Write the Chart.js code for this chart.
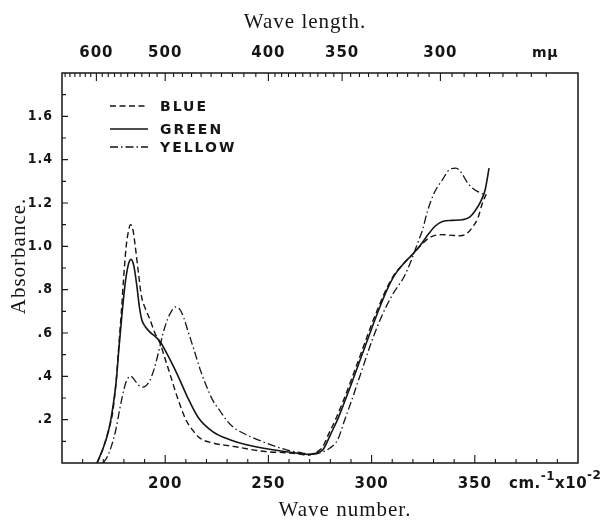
<!DOCTYPE html>
<html><head><meta charset="utf-8">
<script src="https://cdn.jsdelivr.net/npm/chart.js@4.4.1/dist/chart.umd.min.js"></script>
<style>html,body{margin:0;padding:0;background:#fff;}#wrap{width:610px;height:525px;}</style>
</head><body><div id="wrap"><canvas id="c" width="610" height="525"></canvas></div>
<script>
// ---- data (wave number in cm^-1 x 10^-2, absorbance) ----
const seriesNames = ['BLUE', 'GREEN', 'YELLOW'];
const blueX = [167, 170, 172.5, 174.5, 176.3, 177.5, 178.7, 179.8, 181.1, 182.2, 183.2, 184.3, 185.5, 187, 188.5, 190.5, 192.5, 195, 197.6, 200, 203, 206, 210, 213, 216.8, 223.2, 232.9, 247.4, 260.3, 266, 269, 272, 276, 279.5, 282.5, 286, 290, 295, 300, 304, 307.5, 311, 315, 320, 324, 328, 334, 340, 343, 346, 349, 351.5, 353.7, 355.5];
const blueY = [0, 0.07, 0.15, 0.23, 0.385, 0.54, 0.69, 0.846, 1.0, 1.07, 1.10, 1.08, 1.0, 0.88, 0.77, 0.71, 0.665, 0.6, 0.55, 0.48, 0.39, 0.30, 0.20, 0.155, 0.115, 0.092, 0.077, 0.054, 0.046, 0.04, 0.035, 0.045, 0.07, 0.14, 0.2, 0.28, 0.38, 0.51, 0.64, 0.735, 0.81, 0.87, 0.915, 0.965, 1.005, 1.04, 1.054, 1.05, 1.049, 1.058, 1.09, 1.13, 1.2, 1.24];
const greenX = [167, 170, 172.6, 174.2, 176.3, 177.5, 179, 180.5, 182, 183.4, 184.8, 186.3, 187.5, 188.7, 190.3, 192.5, 195, 197.6, 200, 204, 207, 210.5, 216, 223, 232, 239.4, 252.2, 263.5, 270, 273, 276.4, 280.4, 283.5, 286, 290, 295, 300, 304, 307.5, 311, 315, 320, 324, 327.9, 331, 334.3, 339, 344, 347.5, 350.5, 353, 355, 356.9];
const greenY = [0, 0.07, 0.15, 0.23, 0.38, 0.52, 0.68, 0.82, 0.91, 0.94, 0.91, 0.815, 0.72, 0.66, 0.63, 0.605, 0.585, 0.56, 0.52, 0.446, 0.385, 0.31, 0.21, 0.145, 0.105, 0.084, 0.061, 0.046, 0.04, 0.045, 0.061, 0.138, 0.2, 0.26, 0.36, 0.49, 0.62, 0.72, 0.80, 0.865, 0.915, 0.965, 1.01, 1.061, 1.095, 1.115, 1.12, 1.123, 1.135, 1.169, 1.21, 1.26, 1.361];
const yellowX = [170, 172, 174, 176, 178, 180, 181.5, 183.4, 185, 187, 189, 190.5, 192.5, 194.5, 197, 199, 201, 203, 205, 207, 209, 211, 213.7, 217, 220, 223, 226.6, 229.5, 233, 239.4, 249, 258.7, 266.6, 271, 276, 280, 283.6, 287, 290, 295, 300, 305, 310, 315.8, 319, 322.3, 324.7, 327, 330.3, 334.3, 337.6, 340.8, 343.5, 346, 348.8, 352, 355.5];
const yellowY = [0, 0.03, 0.08, 0.15, 0.25, 0.34, 0.385, 0.40, 0.385, 0.36, 0.35, 0.355, 0.38, 0.43, 0.52, 0.60, 0.66, 0.70, 0.72, 0.71, 0.67, 0.61, 0.53, 0.43, 0.354, 0.29, 0.24, 0.2, 0.165, 0.13, 0.092, 0.061, 0.046, 0.04, 0.05, 0.07, 0.108, 0.2, 0.28, 0.42, 0.56, 0.68, 0.775, 0.861, 0.93, 1.015, 1.077, 1.16, 1.246, 1.307, 1.353, 1.361, 1.34, 1.30, 1.269, 1.25, 1.235];
// ---- tick labels ----
const waveNumberTicks = [200, 250, 300, 350];
const waveLengthTicks = [600, 500, 400, 350, 300];
const absorbanceTicks = [0.2, 0.4, 0.6, 0.8, 1.0, 1.2, 1.4, 1.6];
const absorbanceLabels = ['.2', '.4', '.6', '.8', '1.0', '1.2', '1.4', '1.6'];

const INK = '#151515';
const tickFont = { family: 'DejaVu Sans', size: 15, weight: 'bold' };
const yTickFont = { family: '"DejaVu Sans Condensed", "DejaVu Sans"', size: 14, weight: 'bold' };
const pts = (xs, ys) => xs.map((x, i) => ({ x: x, y: ys[i] }));
const styles = [
  { dash: [6, 3.5], width: 1.4 },
  { dash: [], width: 1.6 },
  { dash: [8, 3, 1.5, 3], width: 1.3 }
];
const seriesData = [pts(blueX, blueY), pts(greenX, greenY), pts(yellowX, yellowY)];

const decor = {
  id: 'decor',
  beforeDraw(chart) { chart.ctx.letterSpacing = '1px'; },
  beforeDatasetsDraw(chart) {
    const ctx = chart.ctx;
    ctx.letterSpacing = '0px';
    const { left, right, top, bottom } = chart.chartArea;
    const sx = chart.scales.x, sy = chart.scales.y;
    ctx.save();
    ctx.strokeStyle = INK;
    ctx.lineWidth = 1.1;
    ctx.beginPath();
    for (let v = 160; v < 400; v += 10) {
      const p = sx.getPixelForValue(v);
      const len = v % 50 === 0 ? 8 : 4;
      ctx.moveTo(p, bottom); ctx.lineTo(p, bottom - len);
    }
    for (let l = 660; l >= 260; l -= (l > 400 ? 10 : 5)) {
      const v = 1e5 / l;
      if (v <= 150 || v >= 400) continue;
      const p = sx.getPixelForValue(v);
      const len = waveLengthTicks.includes(l) ? 8 : 4;
      ctx.moveTo(p, top); ctx.lineTo(p, top + len);
    }
    for (let k = 1; k < 18; k++) {
      const p = sy.getPixelForValue(k / 10);
      const len = k % 2 === 0 ? 6 : 4;
      ctx.moveTo(left, p); ctx.lineTo(left + len, p);
    }
    ctx.stroke();
    ctx.lineWidth = 1.5;
    ctx.strokeRect(left, top, right - left, bottom - top);
    ctx.restore();
  },
  afterDraw(chart) {
    const ctx = chart.ctx;
    ctx.save();
    ctx.fillStyle = INK;
    ctx.strokeStyle = INK;
    // legend
    const ly = [106, 129, 147];
    seriesNames.forEach((name, i) => {
      ctx.lineWidth = styles[i].width;
      ctx.setLineDash(styles[i].dash);
      ctx.beginPath(); ctx.moveTo(110, ly[i]); ctx.lineTo(148, ly[i]); ctx.stroke();
      ctx.setLineDash([]);
      ctx.font = 'bold 14px "DejaVu Sans"';
      ctx.letterSpacing = '2px';
      ctx.textAlign = 'left'; ctx.textBaseline = 'middle';
      ctx.fillText(name, 160, ly[i] + 1);
    });
    // axis titles
    ctx.font = '21px "Liberation Serif"';
    ctx.letterSpacing = '1px';
    ctx.textAlign = 'center'; ctx.textBaseline = 'middle';
    ctx.fillText('Wave length.', 305, 22);
    ctx.fillText('Wave number.', 345, 510);
    ctx.save();
    ctx.translate(19, 256); ctx.rotate(-Math.PI / 2);
    ctx.fillText('Absorbance.', 0, 0);
    ctx.restore();
    // units
    ctx.textAlign = 'left'; ctx.textBaseline = 'middle';
    ctx.letterSpacing = '0.5px';
    let x = 509;
    const parts = [['cm.', 0, 15], ['-1', -7, 12], ['x10', 0, 15], ['-2', -8, 12]];
    parts.forEach(([t, dy, fs]) => {
      ctx.font = 'bold ' + fs + 'px "DejaVu Sans"';
      ctx.fillText(t, x, 484 + dy);
      x += ctx.measureText(t).width;
    });
    ctx.font = 'bold 14px "DejaVu Sans"';
    ctx.textAlign = 'center';
    ctx.fillText('mμ', 545, 53);
    ctx.restore();
  }
};

new Chart(document.getElementById('c'), {
  type: 'scatter',
  data: {
    datasets: seriesNames.map((name, i) => ({
      label: name,
      data: seriesData[i],
      showLine: true,
      borderColor: INK,
      borderWidth: styles[i].width,
      borderDash: styles[i].dash,
      pointRadius: 0,
      cubicInterpolationMode: 'monotone',
      fill: false
    }))
  },
  options: {
    responsive: false,
    animation: false,
    devicePixelRatio: 1,
    layout: { padding: { left: 0, right: 32, top: 0, bottom: 0 } },
    plugins: { legend: { display: false }, tooltip: { enabled: false } },
    scales: {
      x: {
        type: 'linear', position: 'bottom', min: 150, max: 400,
        grid: { display: false, drawTicks: false }, border: { display: false },
        afterBuildTicks: s => { s.ticks = waveNumberTicks.map(v => ({ value: v })); },
        ticks: { color: INK, font: tickFont, padding: 12, maxRotation: 0, autoSkip: false, callback: v => String(v) },
        afterFit: s => { s.height = 62; }
      },
      x2: {
        type: 'linear', position: 'top', min: 150, max: 400,
        grid: { display: false, drawTicks: false }, border: { display: false },
        afterBuildTicks: s => { s.ticks = waveLengthTicks.map(l => ({ value: 1e5 / l })); },
        ticks: { color: INK, font: tickFont, padding: 11, maxRotation: 0, autoSkip: false, callback: v => String(Math.round(1e5 / v)) },
        afterFit: s => { s.height = 73; }
      },
      y: {
        type: 'linear', position: 'left', min: 0, max: 1.8,
        grid: { display: false, drawTicks: false }, border: { display: false },
        afterBuildTicks: s => { s.ticks = absorbanceTicks.map(v => ({ value: v })); },
        ticks: { color: INK, font: yTickFont, padding: 9, autoSkip: false,
          callback: v => absorbanceLabels[absorbanceTicks.findIndex(t => Math.abs(t - v) < 1e-6)] },
        afterFit: s => { s.width = 62; }
      }
    }
  },
  plugins: [decor]
});
</script></body></html>
